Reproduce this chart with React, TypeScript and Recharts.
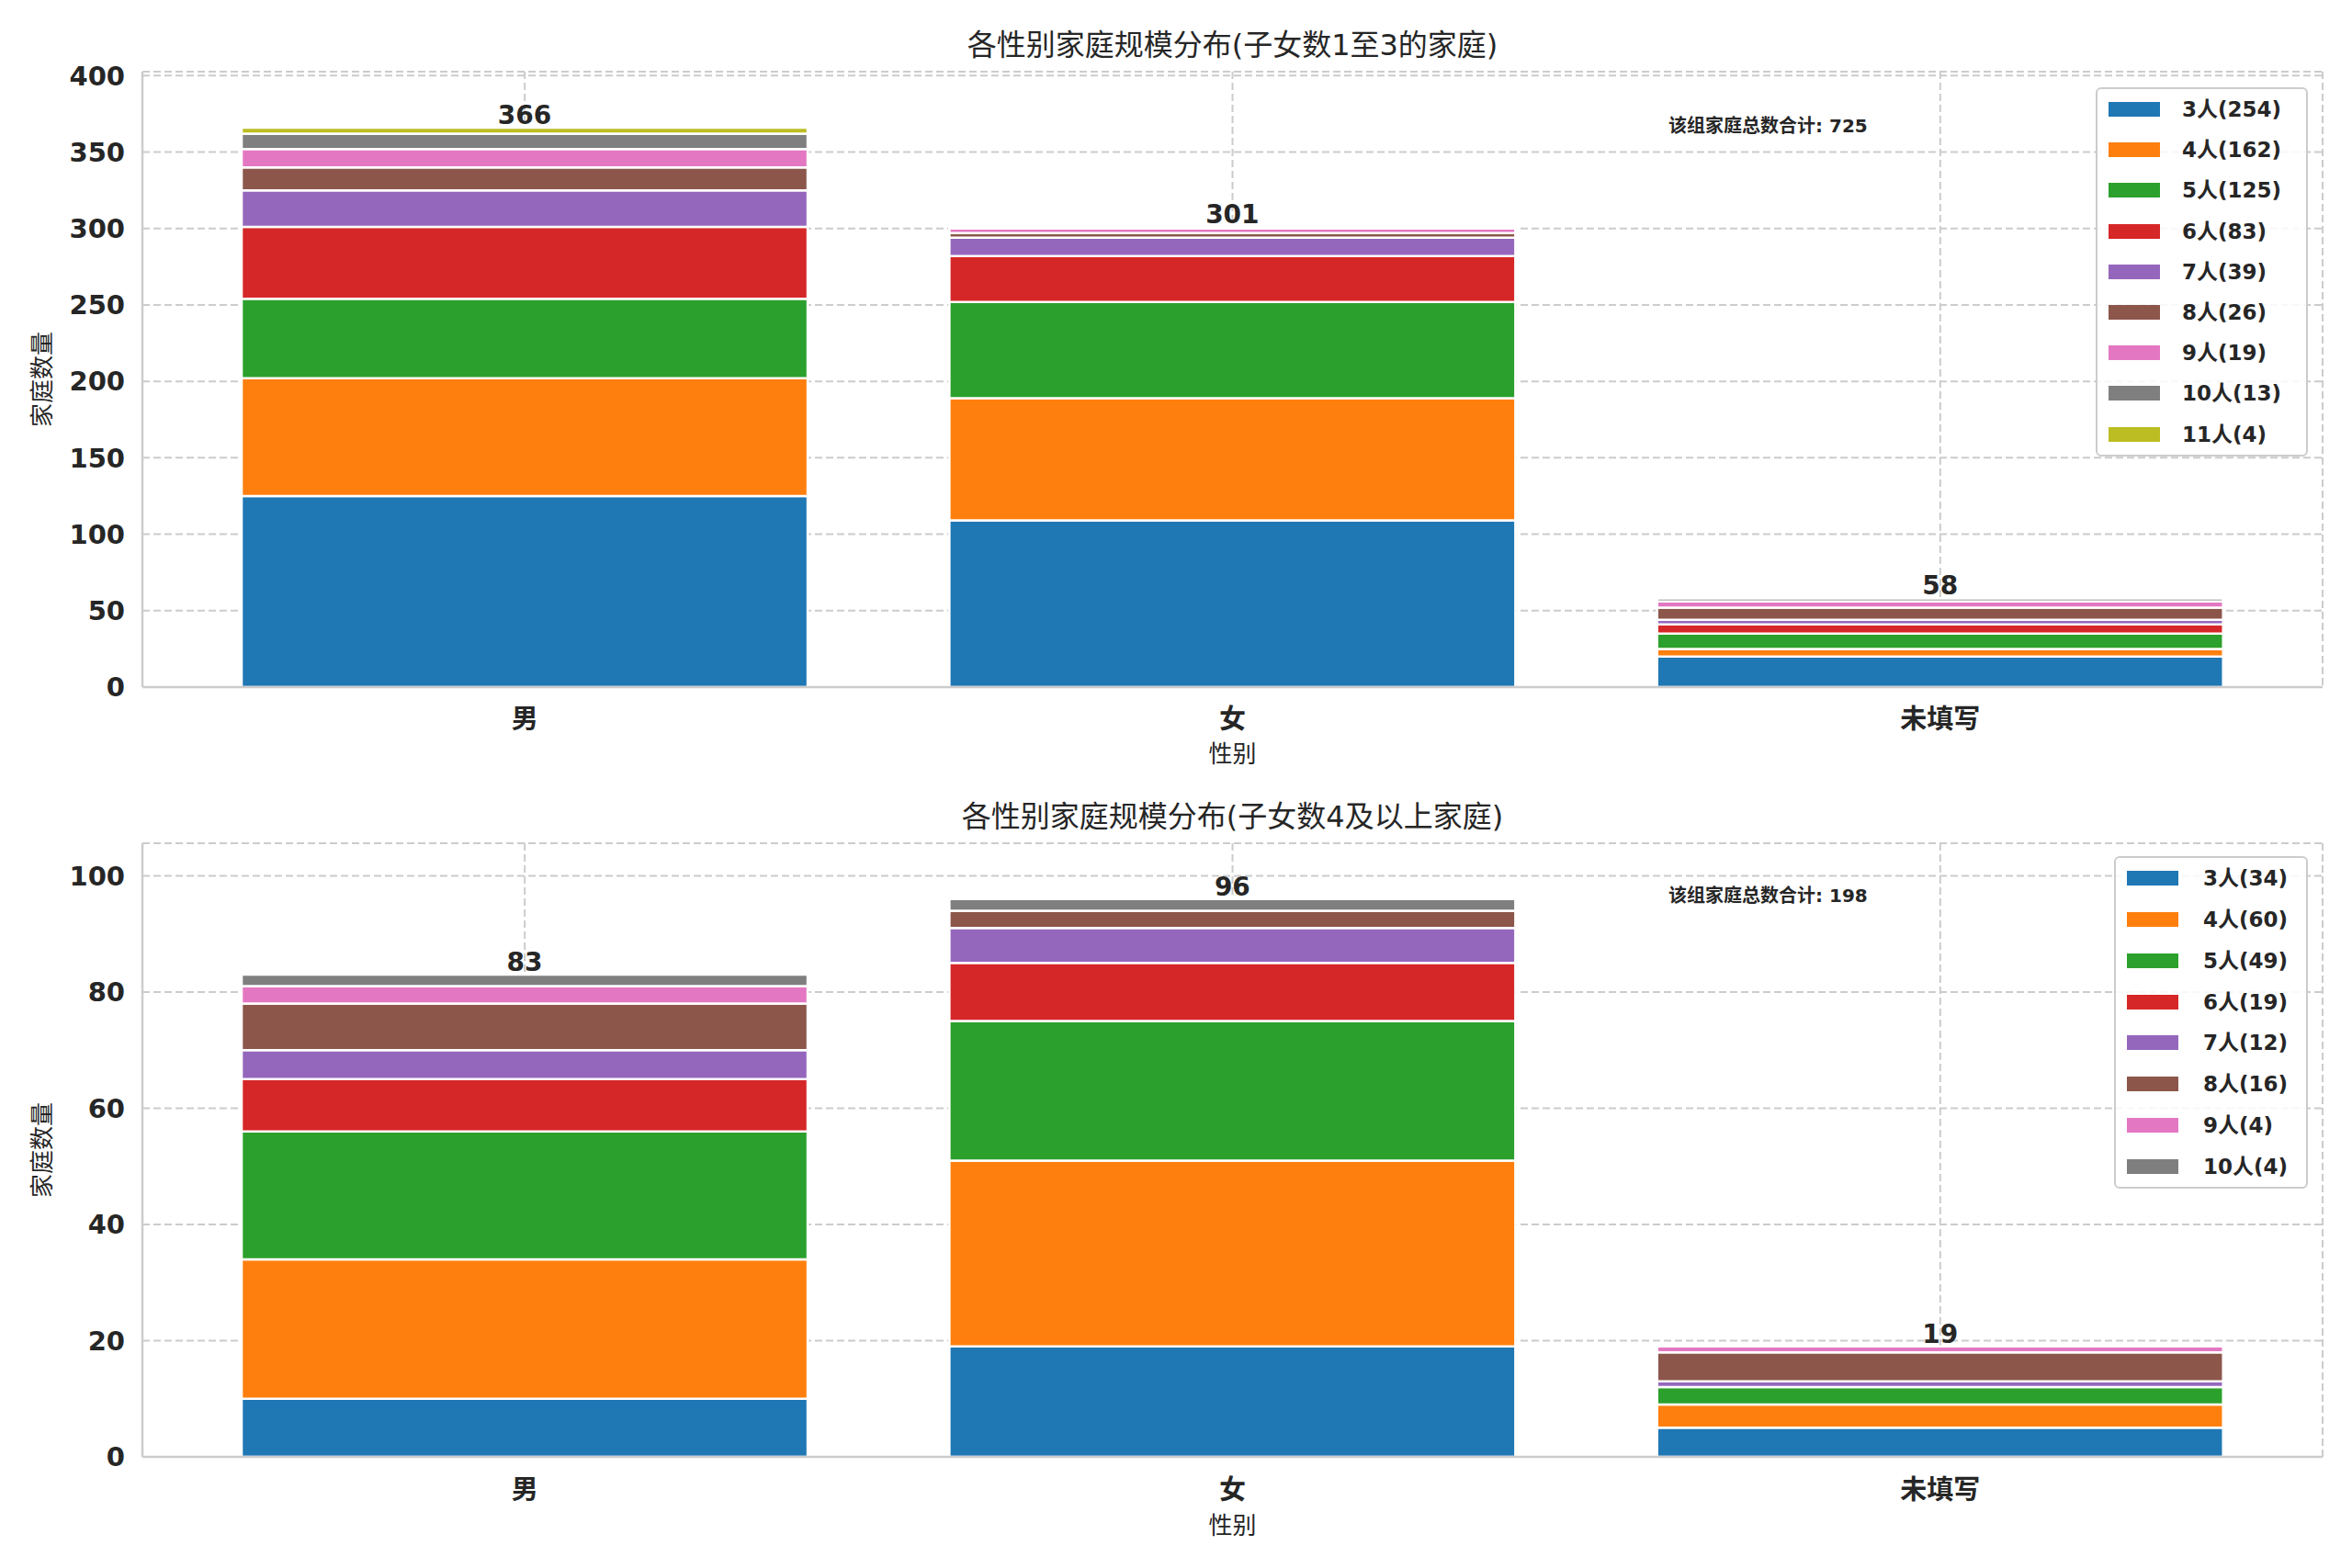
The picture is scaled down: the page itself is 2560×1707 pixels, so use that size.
import React from "react";
import { BarChart, Bar, XAxis, YAxis, CartesianGrid, LabelList, Label } from "recharts";

const FONT = '"DejaVu Sans", "Noto Sans CJK SC", sans-serif';
const INK = "#262626";
const GRID = "#cccccc";

// categories on the x axis
const genders = ["男", "女", "未填写"];

// tab10 colours, one per family size
const colors = [
  "#1f77b4",
  "#ff7f0e",
  "#2ca02c",
  "#d62728",
  "#9467bd",
  "#8c564b",
  "#e377c2",
  "#7f7f7f",
  "#bcbd22",
];

// upper panel: families with 1-3 children
const sizes1 = ["3人", "4人", "5人", "6人", "7人", "8人", "9人", "10人", "11人"];
const group1 = [
  [125, 109, 20],
  [77, 80, 5],
  [52, 63, 10],
  [47, 30, 6],
  [24, 12, 3],
  [15, 3, 8],
  [12, 3, 4],
  [10, 1, 2],
  [4, 0, 0],
];
const ticks1 = [0, 50, 100, 150, 200, 250, 300, 350, 400];

// lower panel: families with 4 or more children
const sizes2 = ["3人", "4人", "5人", "6人", "7人", "8人", "9人", "10人"];
const group2 = [
  [10, 19, 5],
  [24, 32, 4],
  [22, 24, 3],
  [9, 10, 0],
  [5, 6, 1],
  [8, 3, 5],
  [3, 0, 1],
  [2, 2, 0],
];
const ticks2 = [0, 20, 40, 60, 80, 100];

const title1 = "各性别家庭规模分布(子女数1至3的家庭)";
const title2 = "各性别家庭规模分布(子女数4及以上家庭)";
const xLabel = "性别";
const yLabel = "家庭数量";
const notePrefix = "该组家庭总数合计";

const spine = { stroke: GRID, strokeWidth: 2.5 };
const tickStyle = { fill: INK, fontSize: 29, fontWeight: 700, fontFamily: FONT };

// total drawn above the bar, by whichever segment is on top
const TotalLabel = (p: any) => {
  if (p.value == null) return null;
  return (
    <text
      x={p.x + p.width / 2}
      y={p.y - 4}
      textAnchor="middle"
      fontFamily={FONT}
      fontSize={28}
      fontWeight={700}
      fill={INK}
    >
      {p.value}
    </text>
  );
};

function Panel({ title, labels, values, ticks, top, height, plotTop, plotBottom, tickGap, xLabelGap, legend, noteY }) {
  const rows = genders.map((g, i) => {
    const row: any = { gender: g, total: 0, last: 0 };
    values.forEach((v, k) => {
      row["s" + k] = v[i];
      row.total += v[i];
      if (v[i] > 0) row.last = k;
    });
    return row;
  });
  const maxTotal = Math.max(...rows.map((r) => r.total));
  const grand = rows.reduce((a, r) => a + r.total, 0);

  return (
    <div style={{ position: "absolute", left: 0, top, width: 2560, height }}>
      <div
        style={{
          position: "absolute",
          left: 155,
          width: 2373,
          top: plotTop - 49,
          height: 40,
          lineHeight: "40px",
          textAlign: "center",
          fontFamily: FONT,
          fontSize: 32,
          color: INK,
        }}
      >
        {title}
      </div>
      <BarChart
        width={2560}
        height={height}
        data={rows}
        margin={{ top: plotTop, right: 32, bottom: 0, left: 0 }}
        barCategoryGap="10%"
      >
        <CartesianGrid stroke={GRID} strokeDasharray="8 4" strokeWidth={2} />
        <XAxis
          dataKey="gender"
          height={height - plotBottom}
          padding={{ left: 31, right: 31 }}
          interval={0}
          tickSize={0}
          tickMargin={tickGap}
          tickLine={false}
          axisLine={spine}
          tick={tickStyle}
        >
          <Label
            content={(p: any) => {
              const vb = p.viewBox;
              return (
                <text
                  x={vb.x + vb.width / 2}
                  y={vb.y + xLabelGap}
                  textAnchor="middle"
                  dominantBaseline="central"
                  fontFamily={FONT}
                  fontSize={26}
                  fill={INK}
                >
                  {xLabel}
                </text>
              );
            }}
          />
        </XAxis>
        <XAxis
          xAxisId="top"
          orientation="top"
          dataKey="gender"
          height={0}
          padding={{ left: 31, right: 31 }}
          tick={false}
          tickLine={false}
          axisLine={spine}
        />
        <YAxis
          width={155}
          domain={[0, maxTotal * 1.1]}
          ticks={ticks}
          tickSize={0}
          tickMargin={19}
          tickLine={false}
          axisLine={spine}
          tick={tickStyle}
        >
          <Label
            content={(p: any) => {
              const vb = p.viewBox;
              const cx = vb.x + 46;
              const cy = vb.y + vb.height / 2;
              return (
                <text
                  x={cx}
                  y={cy}
                  transform={`rotate(-90 ${cx} ${cy})`}
                  textAnchor="middle"
                  dominantBaseline="central"
                  fontFamily={FONT}
                  fontSize={26}
                  fill={INK}
                >
                  {yLabel}
                </text>
              );
            }}
          />
        </YAxis>
        <YAxis
          yAxisId="right"
          orientation="right"
          width={0}
          domain={[0, 1]}
          tick={false}
          tickLine={false}
          axisLine={spine}
        />
        {labels.map((l, k) => (
          <Bar
            key={l}
            dataKey={"s" + k}
            name={l}
            stackId="a"
            fill={colors[k]}
            stroke="#ffffff"
            strokeWidth={2.5}
            isAnimationActive={false}
          >
            <LabelList
              dataKey={(d: any) => (d.last === k ? d.total : null)}
              content={TotalLabel}
            />
          </Bar>
        ))}
      </BarChart>

      <div
        style={{
          position: "absolute",
          left: 1816,
          top: noteY - 14,
          height: 28,
          lineHeight: "28px",
          fontFamily: FONT,
          fontSize: 20,
          fontWeight: 700,
          color: INK,
          whiteSpace: "nowrap",
        }}
      >
        {notePrefix}: {grand}
      </div>

      <div
        style={{
          position: "absolute",
          left: legend.left,
          top: legend.top,
          width: legend.width,
          boxSizing: "border-box",
          border: `2px solid ${GRID}`,
          borderRadius: 6,
          background: "rgba(255,255,255,0.85)",
        }}
      >
        {labels.map((l, k) => (
          <div
            key={l}
            style={{
              position: "relative",
              height: legend.row,
              display: "flex",
              alignItems: "center",
            }}
          >
            <div
              style={{
                position: "absolute",
                left: 12,
                width: 56,
                height: 16,
                background: colors[k],
              }}
            />
            <div
              style={{
                position: "absolute",
                left: legend.text,
                fontFamily: FONT,
                fontSize: 23,
                fontWeight: 700,
                color: INK,
                whiteSpace: "nowrap",
                lineHeight: "28px",
              }}
            >
              {l}({values[k].reduce((a, b) => a + b, 0)})
            </div>
          </div>
        ))}
      </div>
    </div>
  );
}

export default function App() {
  return (
    <div
      style={{
        position: "absolute",
        left: 0,
        top: 0,
        width: 2560,
        height: 1707,
        background: "#ffffff",
        overflow: "hidden",
      }}
    >
      <Panel
        title={title1}
        labels={sizes1}
        values={group1}
        ticks={ticks1}
        top={0}
        height={853}
        plotTop={78}
        plotBottom={748}
        tickGap={24}
        xLabelGap={73}
        legend={{ left: 2281, top: 95, width: 231, row: 44.2, text: 92 }}
        noteY={137}
      />
      <Panel
        title={title2}
        labels={sizes2}
        values={group2}
        ticks={ticks2}
        top={853}
        height={854}
        plotTop={65}
        plotBottom={733}
        tickGap={25}
        xLabelGap={75}
        legend={{ left: 2301, top: 79, width: 211, row: 44.75, text: 95 }}
        noteY={122}
      />
    </div>
  );
}
